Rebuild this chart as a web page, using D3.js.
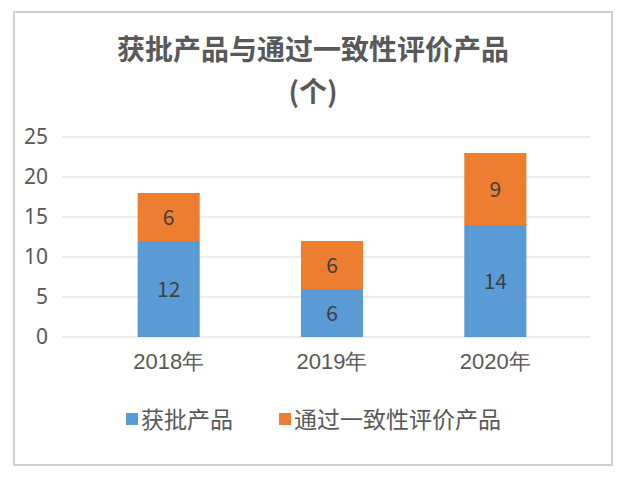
<!DOCTYPE html>
<html><head><meta charset="utf-8">
<script src="https://cdn.jsdelivr.net/npm/d3@7"></script>
<style>body{margin:0;background:#fff;font-family:"Noto Sans CJK SC","Noto Sans",sans-serif;}</style>
</head><body>
<div id="chart"></div>
<script>
const years = ["2018年", "2019年", "2020年"];
const approved = [12, 6, 14];
const consistency = [6, 6, 9];
const seriesNames = ["获批产品", "通过一致性评价产品"];
const colors = ["#5B9BD5", "#ED7D31"];
const yTicks = [0, 5, 10, 15, 20, 25];

const W = 627, H = 477;
const svg = d3.select("#chart").append("svg").attr("width", W).attr("height", H);

// frame
svg.append("rect").attr("x", 14).attr("y", 12).attr("width", 598).attr("height", 453)
    .attr("fill", "#fff").attr("stroke", "#d0d0d0").attr("stroke-width", 2);

svg.append("text").attr("x", 313).attr("y", 60).attr("text-anchor", "middle")
    .attr("font-size", 28).attr("font-weight", "bold").attr("fill", "#595959")
    .text("获批产品与通过一致性评价产品");
svg.append("text").attr("x", 313).attr("y", 102).attr("text-anchor", "middle")
    .attr("font-size", 28).attr("font-weight", "bold").attr("fill", "#595959")
    .text("(个)");

const x = d3.scaleBand().domain(years).range([87, 577]).paddingInner(0.62).paddingOuter(0.31);
const y = d3.scaleLinear().domain([0, 25]).range([337, 137]);

const grid = svg.append("g");
grid.selectAll("line").data(yTicks).enter().append("line")
    .attr("x1", 62).attr("x2", 590)
    .attr("y1", d => y(d)).attr("y2", d => y(d))
    .attr("stroke", "#d9d9d9").attr("stroke-width", 1);

const yAxis = svg.append("g").attr("transform", "translate(62,0)")
    .call(d3.axisLeft(y).tickValues(yTicks).tickSize(0).tickPadding(14));
yAxis.select(".domain").remove();
yAxis.selectAll("text").attr("font-size", 21).attr("fill", "#595959").attr("font-family", "Noto Sans, sans-serif");

const xAxis = svg.append("g").attr("transform", "translate(0,337)")
    .call(d3.axisBottom(x).tickSize(0).tickPadding(16));
xAxis.select(".domain").remove();
xAxis.selectAll("text").attr("font-size", 22).attr("fill", "#595959");

const stacked = years.map((yr, i) => ({ yr, a: approved[i], c: consistency[i] }));
const bars = svg.append("g");
stacked.forEach(d => {
    bars.append("rect").attr("x", x(d.yr)).attr("width", x.bandwidth())
        .attr("y", y(d.a)).attr("height", y(0) - y(d.a)).attr("fill", colors[0]);
    bars.append("rect").attr("x", x(d.yr)).attr("width", x.bandwidth())
        .attr("y", y(d.a + d.c)).attr("height", y(d.a) - y(d.a + d.c)).attr("fill", colors[1]);
    bars.append("text").attr("x", x(d.yr) + x.bandwidth() / 2).attr("y", y(d.a / 2) + 8)
        .attr("text-anchor", "middle").attr("font-size", 21).attr("fill", "#404040").text(d.a);
    bars.append("text").attr("x", x(d.yr) + x.bandwidth() / 2).attr("y", y(d.a + d.c / 2) + 8)
        .attr("text-anchor", "middle").attr("font-size", 21).attr("fill", "#404040").text(d.c);
});

const legendX = [126, 279];
seriesNames.forEach((n, i) => {
    svg.append("rect").attr("x", legendX[i]).attr("y", 413).attr("width", 12).attr("height", 12).attr("fill", colors[i]);
    svg.append("text").attr("x", legendX[i] + 15).attr("y", 428).attr("font-size", 23).attr("fill", "#595959").text(n);
});
</script>
</body></html>
